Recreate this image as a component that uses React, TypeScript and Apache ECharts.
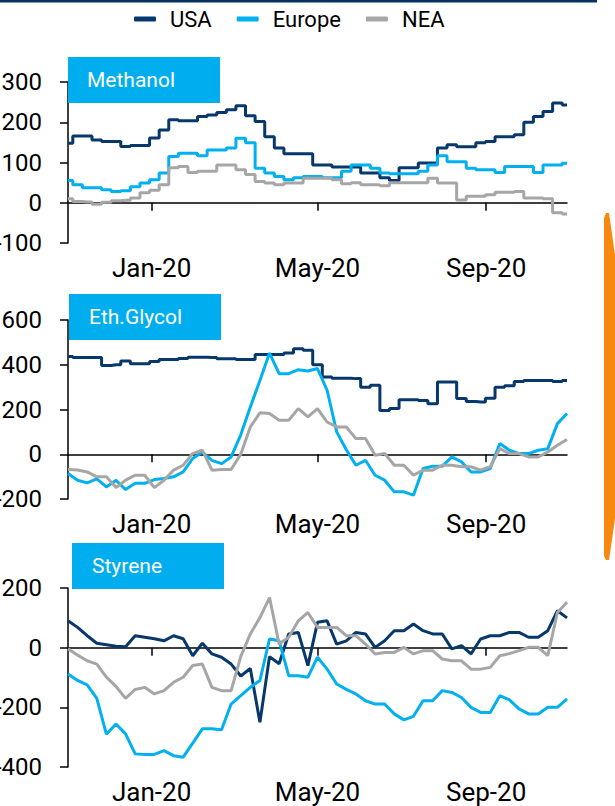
import React, { useEffect, useRef } from "react";
import * as echarts from "echarts";

const DAY = 86400000;
const START = Date.UTC(2019, 10, 1);
const END = Date.UTC(2020, 9, 30);
const weeks: number[] = Array.from({ length: 53 }, (_, k) => START + k * 7 * DAY);
const tickDates = [Date.UTC(2020, 0, 1), Date.UTC(2020, 4, 1), Date.UTC(2020, 8, 1)];
const monthNames = ["Jan", "Feb", "Mar", "Apr", "May", "Jun", "Jul", "Aug", "Sep", "Oct", "Nov", "Dec"];

const seriesNames = ["USA", "Europe", "NEA"];
const seriesColors = ["#06386B", "#00B0F0", "#A6A6A6"];
const panelTitles = ["Methanol", "Eth.Glycol", "Styrene"];

const methUSA = [148,166,166,156,152,152,140,142,142,161,181,206,204,204,214,218,224,231,241,216,202,164,136,122,122,122,94,94,89,89,89,74,74,62,55,87,87,99,99,136,144,139,139,149,152,164,164,169,200,214,227,248,243];
const methEUR = [55,45,37,37,32,28,30,40,49,57,74,115,123,123,117,131,131,136,160,149,86,74,65,57,62,65,65,62,62,78,94,94,86,74,72,72,72,78,94,117,102,102,86,82,82,75,90,90,90,75,94,94,98];
const methNEA = [10,3,2,-4,1,5,6,12,25,31,45,87,90,75,78,78,94,94,82,70,53,49,45,49,49,61,61,61,57,47,50,45,45,42,50,50,50,50,61,49,49,7,16,16,20,26,26,28,12,12,10,-25,-28];

const egUSA = [437,432,432,432,397,400,417,405,405,415,423,423,428,434,434,432,427,427,423,423,446,446,446,452,472,465,400,345,340,340,338,300,308,195,204,244,244,240,226,323,323,249,236,234,250,300,306,325,330,330,330,325,330];
const egEUR = [-86,-116,-128,-110,-146,-116,-158,-130,-130,-113,-108,-101,-79,-19,10,-27,-42,-12,87,211,330,452,360,360,378,372,383,286,100,20,-49,-27,-94,-116,-168,-168,-183,-64,-54,-54,-12,-34,-79,-79,-64,48,18,3,3,18,25,137,182];
const egNEA = [-68,-70,-79,-101,-101,-149,-116,-94,-94,-149,-116,-71,-49,3,18,-71,-68,-68,0,122,185,182,152,152,204,167,204,144,122,122,70,70,-4,3,-49,-49,-94,-71,-71,-49,-49,-56,-56,-71,-56,25,3,3,-12,-12,10,40,66];

const styUSA = [90,68,40,15,10,5,3,40,35,30,23,40,30,-27,15,-21,-32,-55,-95,-70,-250,-30,-54,46,51,-60,85,90,12,23,51,46,1,23,57,57,79,57,46,46,-4,7,-21,29,40,40,51,51,35,35,57,124,100];
const styEUR = [-88,-110,-125,-170,-290,-256,-289,-356,-358,-358,-345,-362,-367,-320,-272,-272,-275,-189,-161,-133,-110,29,23,-94,-94,-99,-32,-72,-122,-140,-155,-178,-189,-189,-222,-242,-230,-178,-178,-144,-150,-167,-200,-217,-217,-161,-175,-205,-222,-222,-200,-200,-172];
const styNEA = [-4,-25,-44,-55,-99,-130,-170,-140,-133,-155,-144,-116,-99,-60,-55,-133,-144,-144,-30,46,101,168,12,35,90,118,68,68,68,40,40,12,-21,-16,-16,1,-21,-10,-10,-38,-44,-44,-72,-72,-66,-27,-20,-10,1,1,-27,118,152];

const yMins = [-100, -200, -400];
const yMaxs = [300, 600, 200];
const yIntervals = [100, 200, 200];
const panelData = [
  [methUSA, methEUR, methNEA],
  [egUSA, egEUR, egNEA],
  [styUSA, styEUR, styNEA],
];
const stepped = [
  [true, true, true],
  [true, false, false],
  [false, false, false],
];

const FONT = 'Roboto, "Liberation Sans", Arial, sans-serif';

export default function App() {
  const ref = useRef<HTMLDivElement>(null);
  useEffect(() => {
    if (!ref.current) return;
    const chart = echarts.init(ref.current, null, { renderer: "svg" });
    const gridPos = [
      { top: 82, height: 161 },
      { top: 320, height: 179 },
      { top: 588, height: 179 },
    ];
    const boxPos = [
      { x: 68, y: 57, tx: 87 },
      { x: 69, y: 294, tx: 89 },
      { x: 72, y: 543, tx: 92 },
    ];
    const toDay = (t: number) => (t - START) / DAY;
    const tickDays = tickDates.map(toDay);
    const fmt = (v: number) => {
      const d = new Date(START + Math.round(v) * DAY);
      return monthNames[d.getUTCMonth()] + "-" + String(d.getUTCFullYear()).slice(2);
    };
    const xAxis: any[] = [];
    const yAxis: any[] = [];
    const series: any[] = [];
    gridPos.forEach((g, i) => {
      xAxis.push({
        type: "value",
        gridIndex: i,
        min: 0,
        max: toDay(END),
        position: "bottom",
        axisLine: { show: true, onZero: true, lineStyle: { color: "#000", width: 1.5 } },
        axisTick: { show: true, length: 8, customValues: tickDays, lineStyle: { color: "#000", width: 1.5 } },
        axisLabel: { show: false },
        splitLine: { show: false },
      });
      xAxis.push({
        type: "value",
        gridIndex: i,
        min: 0,
        max: toDay(END),
        position: "bottom",
        axisLine: { show: false, onZero: false },
        axisTick: { show: false },
        axisLabel: {
          show: true,
          customValues: tickDays,
          formatter: fmt,
          fontSize: 26,
          fontFamily: FONT,
          color: "#000",
          margin: 12,
        },
        splitLine: { show: false },
      });
      yAxis.push({
        type: "value",
        gridIndex: i,
        min: yMins[i],
        max: yMaxs[i],
        interval: yIntervals[i],
        axisLine: { show: true, lineStyle: { color: "#000", width: 1.5 } },
        axisTick: { show: true, length: 8, lineStyle: { color: "#000", width: 1.5 } },
        axisLabel: { fontSize: 24, fontFamily: FONT, color: "#000", margin: 26 },
        splitLine: { show: false },
      });
      panelData[i].forEach((arr, s) => {
        series.push({
          type: "line",
          name: seriesNames[s],
          xAxisIndex: i * 2,
          yAxisIndex: i,
          data: weeks.map((d, k) => [toDay(d), arr[k]]),
          showSymbol: false,
          symbol: "none",
          step: stepped[i][s] ? "middle" : false,
          lineStyle: { color: seriesColors[s], width: 3 },
          itemStyle: { color: seriesColors[s] },
          z: 2 + s,
        });
      });
    });
    const graphic: any[] = [
      { type: "rect", shape: { x: 0, y: 0, width: 597, height: 2.5 }, style: { fill: "#04315F" }, z: 100 },
      {
        type: "polygon",
        shape: { points: [[604, 218], [606, 213], [609, 213], [616, 262], [616, 512], [609, 560], [606, 560], [604, 556]] },
        style: { fill: "#F7890F" },
        z: 100,
      },
    ];
    boxPos.forEach((b, i) => {
      graphic.push({
        type: "rect",
        shape: { x: b.x, y: b.y, width: 152, height: 46 },
        style: { fill: "#00AEEF" },
        z: 100,
      });
      graphic.push({
        type: "text",
        x: b.tx,
        y: b.y + 23,
        style: { text: panelTitles[i], fill: "#fff", fontSize: 21, fontFamily: FONT, verticalAlign: "middle" },
        z: 101,
      });
    });
    chart.setOption({
      animation: false,
      backgroundColor: "#fff",
      legend: {
        data: seriesNames,
        left: 134,
        top: 8,
        padding: 0,
        icon: "roundRect",
        itemWidth: 22,
        itemHeight: 5,
        itemGap: 25,
        textStyle: { fontSize: 22, fontFamily: FONT, color: "#000", padding: [0, 0, 0, 9] },
      },
      grid: gridPos.map((g) => ({
        left: 68,
        width: 499,
        top: g.top,
        height: g.height,
        containLabel: false,
        outerBoundsMode: "none",
      })),
      xAxis,
      yAxis,
      series,
      graphic,
    });
    return () => chart.dispose();
  }, []);
  return <div ref={ref} style={{ position: "fixed", left: 0, top: 0, width: 615, height: 806 }} />;
}
